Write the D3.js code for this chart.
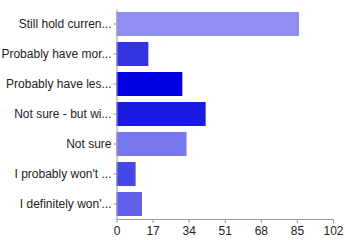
<!DOCTYPE html>
<html>
<head>
<meta charset="utf-8">
<script src="https://cdn.jsdelivr.net/npm/d3@7"></script>
<style>
  body { margin: 0; background: #fff; }
  text { font-family: "Liberation Sans", Arial, sans-serif; }
</style>
</head>
<body>
<div id="chart"></div>
<script>
const categories = [
  "Still hold curren...",
  "Probably have mor...",
  "Probably have les...",
  "Not sure - but wi...",
  "Not sure",
  "I probably won't ...",
  "I definitely won'..."
];
const values = [86, 15, 31, 42, 33, 9, 12];
const barColors = ["#8f8ff1", "#3434e4", "#0000e0", "#1a1ae2", "#7777ef", "#4646e6", "#6161ec"];
const tickValues = [0, 17, 34, 51, 68, 85, 102];

const width = 345, height = 240;
const margin = {top: 9, right: 12, bottom: 21, left: 116.5};

const svg = d3.select("#chart").append("svg")
  .attr("width", width).attr("height", height);

const x = d3.scaleLinear().domain([0, 102]).range([margin.left, width - margin.right]);
const y = d3.scaleBand().domain(categories)
  .range([margin.top, height - margin.bottom])
  .paddingInner(0.2).paddingOuter(0.1);

// bars
svg.selectAll("rect.bar")
  .data(categories)
  .join("rect")
    .attr("class", "bar")
    .attr("x", x(0))
    .attr("y", d => y(d))
    .attr("width", (d, i) => x(values[i]) - x(0))
    .attr("height", y.bandwidth())
    .attr("fill", (d, i) => barColors[i]);

// y axis
const yAxis = svg.append("g")
  .attr("transform", `translate(${margin.left},0)`)
  .call(d3.axisLeft(y).tickSize(3).tickSizeOuter(0).tickPadding(2));
yAxis.selectAll("text").attr("font-size", 12).attr("fill", "#222");

// x axis
const xAxis = svg.append("g")
  .attr("transform", `translate(0,${height - margin.bottom})`)
  .call(d3.axisBottom(x).tickValues(tickValues).tickSize(4).tickSizeOuter(0).tickPadding(3));
xAxis.selectAll("text").attr("font-size", 12).attr("fill", "#222");

svg.selectAll(".domain, .tick line").attr("stroke", "#999");
</script>
</body>
</html>
